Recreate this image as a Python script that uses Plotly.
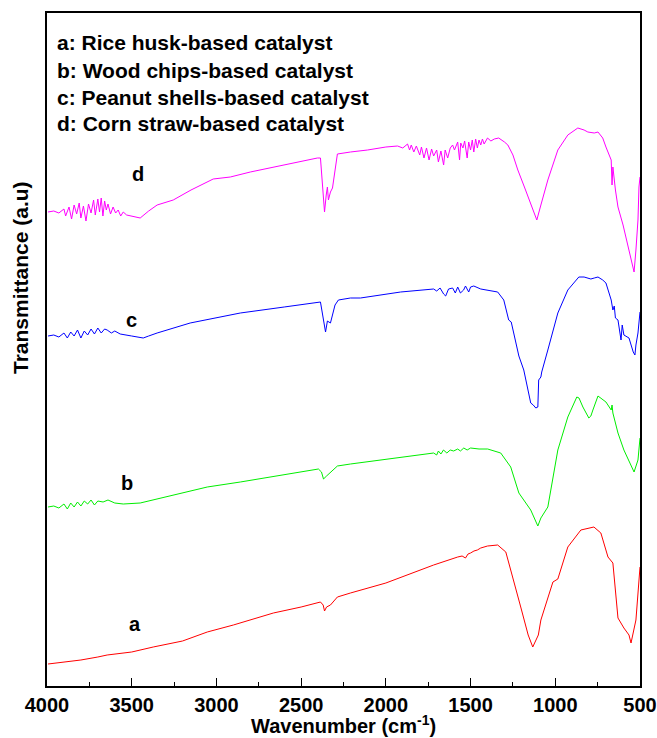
import plotly.graph_objects as go

# Wavenumber (cm-1) and transmittance (a.u., arbitrary offset units)
wn_d = [3994, 3960, 3930, 3900, 3890, 3870, 3855, 3840, 3825, 3810, 3800, 3785, 3770, 3755, 3740, 3725, 3715, 3700, 3690, 3680, 3670, 3660, 3650, 3640, 3625, 3610, 3595, 3580, 3565, 3550, 3530, 3500, 3450, 3400, 3350, 3255, 3150, 3019, 2918, 2800, 2664, 2500, 2404, 2386, 2370, 2362, 2352, 2345, 2339, 2327, 2315, 2286, 2209, 2108, 2000, 1931, 1900, 1872, 1860, 1850, 1835, 1820, 1800, 1790, 1775, 1760, 1745, 1730, 1718, 1700, 1690, 1675, 1659, 1650, 1635, 1620, 1606, 1595, 1576, 1565, 1558, 1545, 1535, 1520, 1511, 1500, 1490, 1481, 1470, 1460, 1450, 1440, 1430, 1420, 1400, 1380, 1360, 1334, 1300, 1280, 1250, 1221, 1180, 1145, 1109, 1085, 1044, 985, 926, 867, 830, 808, 770, 748, 720, 701, 670, 665, 660, 645, 630, 600, 580, 560, 535, 524, 512, 506, 500]
t_d = [474, 475, 473, 477, 470, 479, 467, 481, 472, 483, 468, 480, 465, 482, 473, 486, 471, 487, 474, 488, 470, 485, 476, 482, 472, 479, 473, 476, 470, 474, 471, 470, 468, 475, 481, 486, 496, 507, 509, 514, 519, 525, 528, 528, 496, 474, 491, 499, 486, 494, 498, 532, 534, 536, 539, 540, 538, 542, 536, 541, 534, 540, 531, 539, 528, 538, 526, 537, 530, 536, 524, 535, 521, 536, 528, 538, 541, 536, 544, 526, 543, 538, 545, 528, 544, 536, 546, 534, 547, 538, 546, 541, 547, 542, 548, 545, 547, 548, 544, 541, 531, 516, 498, 483, 466, 481, 506, 536, 551, 558, 556, 554, 553, 554, 548, 539, 526, 501, 519, 496, 479, 461, 446, 431, 414, 436, 466, 499, 509]

wn_c = [3994, 3960, 3930, 3900, 3880, 3860, 3840, 3820, 3800, 3780, 3760, 3740, 3720, 3700, 3680, 3660, 3645, 3620, 3600, 3568, 3500, 3432, 3400, 3350, 3155, 2859, 2600, 2398, 2386, 2370, 2356, 2345, 2333, 2327, 2300, 2280, 2209, 2150, 1913, 1718, 1700, 1680, 1659, 1647, 1630, 1606, 1590, 1576, 1560, 1541, 1530, 1511, 1500, 1481, 1440, 1400, 1340, 1304, 1275, 1260, 1245, 1233, 1215, 1186, 1145, 1130, 1115, 1103, 1098, 1085, 1080, 1044, 985, 926, 861, 830, 790, 770, 748, 720, 701, 670, 660, 652, 645, 630, 612, 605, 601, 595, 565, 540, 530, 524, 512, 500]
t_c = [350, 351, 349, 353, 348, 354, 350, 356, 348, 355, 351, 357, 352, 358, 353, 357, 356, 353, 355, 352, 350, 348, 350, 353, 363, 373, 379, 384, 384, 368, 354, 365, 364, 363, 381, 386, 388, 388, 394, 397, 395, 398, 392, 390, 397, 398, 393, 399, 393, 396, 400, 394, 399, 400, 397, 396, 394, 386, 366, 364, 353, 343, 330, 316, 283, 281, 278, 279, 306, 309, 314, 336, 373, 396, 409, 409, 407, 408, 409, 406, 403, 386, 376, 380, 368, 366, 346, 361, 354, 351, 348, 334, 331, 341, 353, 374]

wn_b = [3994, 3960, 3930, 3900, 3880, 3860, 3840, 3820, 3800, 3780, 3760, 3740, 3720, 3700, 3669, 3640, 3600, 3550, 3450, 3350, 3054, 2859, 2600, 2398, 2380, 2368, 2350, 2309, 2286, 2209, 1718, 1700, 1690, 1675, 1660, 1640, 1620, 1600, 1576, 1560, 1540, 1520, 1500, 1450, 1399, 1322, 1263, 1215, 1145, 1103, 1085, 1044, 985, 926, 873, 860, 837, 802, 790, 778, 748, 701, 680, 670, 665, 660, 630, 595, 535, 512, 500]
t_b = [179, 180, 178, 182, 177, 183, 179, 184, 180, 185, 182, 186, 181, 185, 184, 186, 183, 182, 183, 187, 199, 204, 211, 217, 214, 207, 210, 216, 220, 222, 233, 231, 235, 232, 236, 233, 236, 235, 237, 235, 238, 236, 238, 237, 237, 233, 219, 193, 176, 160, 168, 179, 236, 269, 289, 288, 279, 268, 270, 276, 290, 284, 278, 276, 281, 273, 253, 236, 214, 226, 248]

wn_a = [3994, 3900, 3800, 3700, 3645, 3500, 3373, 3200, 3054, 2900, 2664, 2500, 2398, 2386, 2370, 2362, 2350, 2327, 2286, 2209, 2000, 1718, 1576, 1550, 1530, 1515, 1500, 1480, 1460, 1440, 1400, 1340, 1292, 1245, 1204, 1160, 1133, 1100, 1085, 1044, 1014, 985, 926, 849, 772, 731, 689, 660, 630, 595, 565, 553, 524, 500]
t_a = [22, 24, 26, 29, 31, 34, 39, 45, 54, 61, 73, 79, 83, 84, 81, 75, 79, 81, 89, 93, 103, 121, 129, 130, 128, 132, 133, 135, 136, 138, 140, 141, 134, 103, 79, 51, 39, 51, 66, 88, 104, 107, 139, 156, 159, 153, 129, 123, 68, 58, 51, 43, 66, 119]

series_names = ["a", "b", "c", "d"]
series_colors = ["#ff0000", "#00ee00", "#0000ff", "#ff00ff"]
legend_lines = ["a: Rice husk-based catalyst", "b: Wood chips-based catalyst",
                "c: Peanut shells-based catalyst", "d: Corn straw-based catalyst"]
x_ticks = [4000, 3500, 3000, 2500, 2000, 1500, 1000, 500]

FONT = "Liberation Sans, Arial, sans-serif"

fig = go.Figure()
for name, xs, ys, col in zip(series_names, [wn_a, wn_b, wn_c, wn_d], [t_a, t_b, t_c, t_d], series_colors):
    fig.add_trace(go.Scatter(x=xs, y=ys, mode="lines", name=name,
                             line=dict(color=col, width=1), showlegend=False))

# curve labels
label_pos = [(3480, 62), (3530, 203), (3500, 366), (3460, 512)]
for name, (lx, ly) in zip(series_names, label_pos):
    fig.add_annotation(x=lx, y=ly, text="<b>%s</b>" % name, showarrow=False,
                       font=dict(family=FONT, size=20, color="black"))

for i, t in enumerate(legend_lines):
    fig.add_annotation(xref="paper", yref="paper", x=0.014, y=1 - (30 + 27 * i) / 673,
                       text="<b>%s</b>" % t, showarrow=False, xanchor="left", yanchor="middle",
                       font=dict(family=FONT, size=21, color="black"))

fig.add_annotation(xref="paper", yref="paper", x=0.5, y=-(724 - 686) / 673, yanchor="middle",
                   text="<b>Wavenumber (cm<sup>-1</sup>)</b>", showarrow=False,
                   font=dict(family=FONT, size=20, color="black"))
fig.add_annotation(xref="paper", yref="paper", x=-(47 - 20) / 593, y=(686 - 278) / 673,
                   xanchor="center", yanchor="middle",
                   text="<b>Transmittance (a.u)</b>", showarrow=False, textangle=-90,
                   font=dict(family=FONT, size=21, color="black"))

fig.update_layout(
    width=657, height=738,
    margin=dict(l=47, r=17, t=13, b=52, autoexpand=False),
    plot_bgcolor="white", paper_bgcolor="white",
    xaxis=dict(range=[4000, 500], tickvals=x_ticks, ticks="inside", ticklen=8, tickwidth=1,
               tickcolor="black", showline=True, linecolor="black", linewidth=1.5, mirror=True,
               showgrid=False, zeroline=False, ticklabelstandoff=0, automargin=False,
               tickfont=dict(family=FONT, size=20, color="black", weight="bold"),
               minor=dict(dtick=250, ticks="inside", ticklen=4, tickcolor="black", showgrid=False)),
    yaxis=dict(range=[0, 673], showticklabels=False, ticks="", showline=True, linecolor="black",
               linewidth=1.5, mirror=True, showgrid=False, zeroline=False, automargin=False),
)

fig.write_html("out.html")
